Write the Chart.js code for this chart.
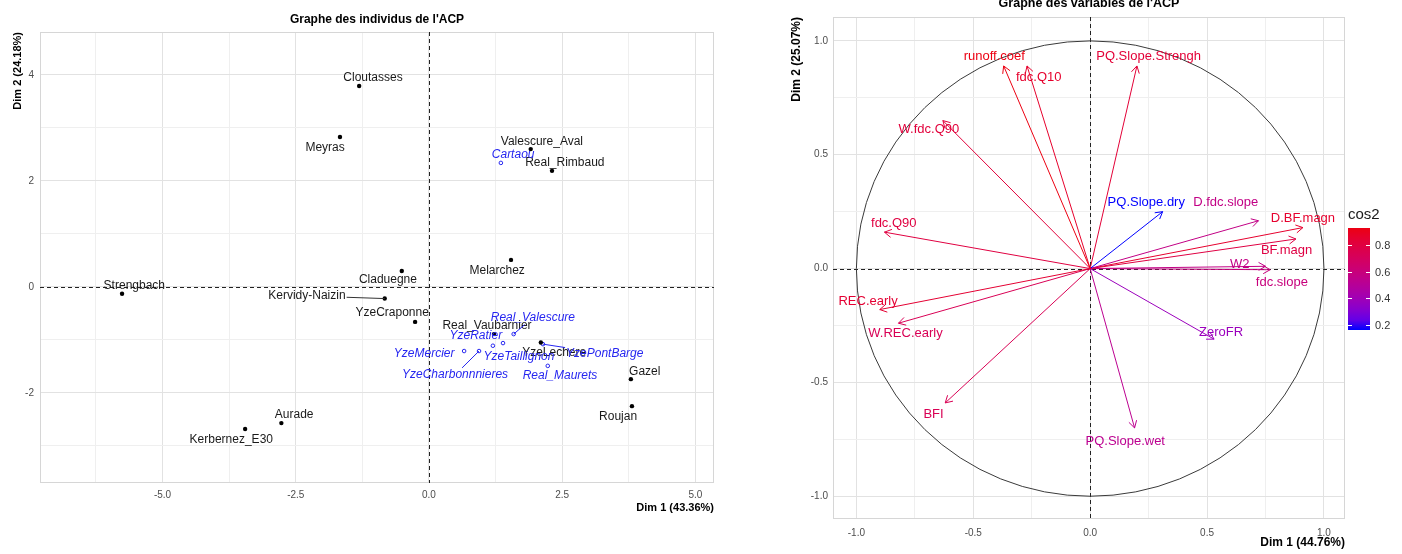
<!DOCTYPE html>
<html lang="fr">
<head>
<meta charset="UTF-8">
<title>Graphes de l'ACP</title>
<script src="https://cdn.jsdelivr.net/npm/chart.js"></script>
<style>
  html, body { margin: 0; padding: 0; background: #fff; }
  body { width: 1402px; height: 554px; position: relative; overflow: hidden; }
  .box { position: absolute; top: 0; height: 554px; }
  #left { left: 0; width: 740px; }
  #right { left: 785px; width: 617px; }
</style>
</head>
<body>
<div class="box" id="left"><canvas id="indChart"></canvas></div>
<div class="box" id="right"><canvas id="varChart"></canvas></div>

<script>
  // individus actifs
  const indNames = ['Cloutasses', 'Meyras', 'Valescure_Aval', 'Real_Rimbaud', 'Melarchez', 'Claduegne', 'Strengbach',
    'Kervidy-Naizin', 'YzeCraponne', 'Real_Vaubarnier', 'YzeLechere', 'Gazel', 'Roujan', 'Aurade', 'Kerbernez_E30'];
  const indX = [-1.31, -1.67, 1.91, 2.31, 1.54, -0.51, -5.76, -0.83, -0.26, 1.22, 2.10, 3.79, 3.81, -2.77, -3.45];
  const indY = [3.79, 2.83, 2.60, 2.19, 0.51, 0.30, -0.13, -0.22, -0.66, -0.89, -1.05, -1.74, -2.25, -2.57, -2.68];
  const indLabX = [-1.05, -1.95, 2.12, 2.55, 1.28, -0.77, -5.53, -2.29, -0.69, 1.09, 2.35, 4.05, 3.55, -2.53, -3.71];
  const indLabY = [3.94, 2.62, 2.74, 2.34, 0.30, 0.13, 0.02, -0.17, -0.49, -0.74, -1.25, -1.60, -2.45, -2.42, -2.89];

  // individus supplementaires
  const supNames = ['Cartaou', 'Real_Valescure', 'YzeRatier', 'YzeTaillignon', 'YzeMercier', 'YzeCharbonnnieres', 'Real_Maurets', 'YzePontBarge'];
  const supX = [1.35, 1.59, 1.39, 1.20, 0.66, 0.94, 2.23, 2.14];
  const supY = [2.34, -0.89, -1.06, -1.11, -1.21, -1.21, -1.49, -1.08];
  const supLabX = [1.58, 1.95, 0.88, 1.69, -0.09, 0.49, 2.46, 3.30];
  const supLabY = [2.49, -0.58, -0.92, -1.32, -1.26, -1.66, -1.68, -1.26];

  // labels relies a leur point par un segment
  const segmentNames = ['Kervidy-Naizin', 'Real_Valescure', 'YzeCharbonnnieres', 'YzePontBarge'];

  // variables
  const varNames = ['runoff.coef', 'fdc.Q10', 'PQ.Slope.Strengh', 'W.fdc.Q90', 'fdc.Q90', 'PQ.Slope.dry', 'D.fdc.slope', 'D.BF.magn',
    'BF.magn', 'W2', 'fdc.slope', 'REC.early', 'W.REC.early', 'BFI', 'PQ.Slope.wet', 'ZeroFR'];
  const varX = [-0.37, -0.27, 0.20, -0.63, -0.88, 0.31, 0.72, 0.91, 0.88, 0.75, 0.77, -0.90, -0.82, -0.62, 0.19, 0.53];
  const varY = [0.89, 0.89, 0.89, 0.65, 0.16, 0.25, 0.21, 0.18, 0.13, 0.01, -0.005, -0.18, -0.24, -0.59, -0.70, -0.31];
  const varLabX = [-0.41, -0.22, 0.25, -0.69, -0.84, 0.24, 0.58, 0.91, 0.84, 0.64, 0.82, -0.95, -0.79, -0.67, 0.15, 0.56];
  const varLabY = [0.93, 0.84, 0.93, 0.61, 0.20, 0.29, 0.29, 0.22, 0.08, 0.02, -0.06, -0.145, -0.285, -0.64, -0.76, -0.28];

  // ticks
  const indXTicks = [-6.25, -5, -3.75, -2.5, -1.25, 0, 1.25, 2.5, 3.75, 5];
  const indXLabels = ['', '-5.0', '', '-2.5', '', '0.0', '', '2.5', '', '5.0'];
  const indYTicks = [-3, -2, -1, 0, 1, 2, 3, 4];
  const indYLabels = ['', '-2', '', '0', '', '2', '', '4'];
  const varTicks = [-1, -0.75, -0.5, -0.25, 0, 0.25, 0.5, 0.75, 1];
  const varLabels = ['-1.0', '', '-0.5', '', '0.0', '', '0.5', '', '1.0'];
  const cos2Ticks = [0.2, 0.4, 0.6, 0.8];

  Chart.defaults.font.family = '"Liberation Sans", Arial, sans-serif';
  Chart.defaults.animation = false;

  // gradient bleu -> rouge interpole en Lab (comme ggplot)
  function lin(c) { c /= 255; return c <= 0.04045 ? c / 12.92 : Math.pow((c + 0.055) / 1.055, 2.4); }
  function unlin(c) {
    c = c <= 0.0031308 ? 12.92 * c : 1.055 * Math.pow(Math.max(c, 0), 1 / 2.4) - 0.055;
    return Math.round(Math.max(0, Math.min(1, c)) * 255);
  }
  const fLab = t => t > 0.008856 ? Math.cbrt(t) : 7.787 * t + 16 / 116;
  const fInv = t => t > 0.206893 ? t * t * t : (t - 16 / 116) / 7.787;
  function rgbToLab(rgb) {
    const r = lin(rgb[0]), g = lin(rgb[1]), b = lin(rgb[2]);
    const x = (0.4124 * r + 0.3576 * g + 0.1805 * b) / 0.95047;
    const y = 0.2126 * r + 0.7152 * g + 0.0722 * b;
    const z = (0.0193 * r + 0.1192 * g + 0.9505 * b) / 1.08883;
    return [116 * fLab(y) - 16, 500 * (fLab(x) - fLab(y)), 200 * (fLab(y) - fLab(z))];
  }
  function labToRgb(lab) {
    const fy = (lab[0] + 16) / 116, fx = fy + lab[1] / 500, fz = fy - lab[2] / 200;
    const x = fInv(fx) * 0.95047, y = fInv(fy), z = fInv(fz) * 1.08883;
    const r = 3.2406 * x - 1.5372 * y - 0.4986 * z;
    const g = -0.9689 * x + 1.8758 * y + 0.0415 * z;
    const b = 0.0557 * x - 0.2040 * y + 1.0570 * z;
    return `rgb(${unlin(r)},${unlin(g)},${unlin(b)})`;
  }
  const lowLab = rgbToLab([0, 0, 255]);
  const highLab = rgbToLab([236, 0, 18]);
  const cos2 = varX.map((x, i) => x * x + varY[i] * varY[i]);
  const cMin = Math.min(...cos2), cMax = Math.max(...cos2);
  function cos2Color(v) {
    const t = Math.max(0, Math.min(1, (v - cMin) / (cMax - cMin)));
    return labToRgb(lowLab.map((l, k) => l + (highLab[k] - l) * t));
  }
  const varColors = cos2.map(cos2Color);

  function axis(min, max, ticks, labels, title, titleSize, pad, fit) {
    return {
      type: 'linear', min, max,
      afterBuildTicks: s => { s.ticks = ticks.map(v => ({ value: v })); },
      afterFit: fit,
      grid: {
        color: c => (c.tick && labels[ticks.indexOf(c.tick.value)] ? '#E2E2E2' : '#EFEFEF'),
        lineWidth: 1, drawTicks: false
      },
      border: { display: false },
      ticks: {
        callback: v => labels[ticks.indexOf(v)] || '',
        color: '#4D4D4D', font: { size: 10 }, padding: pad, autoSkip: false, maxRotation: 0
      },
      title: { display: true, text: title, align: 'end', color: '#000', font: { size: titleSize, weight: 'bold' } }
    };
  }

  function panelDecor(ctx, chart) {
    const a = chart.chartArea, sx = chart.scales.x, sy = chart.scales.y;
    ctx.save();
    ctx.strokeStyle = '#D6D6D6';
    ctx.lineWidth = 1;
    ctx.strokeRect(a.left + 0.5, a.top + 0.5, a.right - a.left - 1, a.bottom - a.top - 1);
    ctx.strokeStyle = '#222';
    ctx.setLineDash([4, 3]);
    const x0 = Math.round(sx.getPixelForValue(0)) + 0.5, y0 = Math.round(sy.getPixelForValue(0)) + 0.5;
    ctx.beginPath();
    ctx.moveTo(x0, a.top); ctx.lineTo(x0, a.bottom);
    ctx.moveTo(a.left, y0); ctx.lineTo(a.right, y0);
    ctx.stroke();
    ctx.restore();
  }

  function drawTitle(chart, text, y, size) {
    const ctx = chart.ctx, a = chart.chartArea;
    ctx.save();
    ctx.font = `bold ${size}px "Liberation Sans", Arial, sans-serif`;
    ctx.fillStyle = '#000';
    ctx.textAlign = 'center';
    ctx.textBaseline = 'middle';
    ctx.fillText(text, (a.left + a.right) / 2, y);
    ctx.restore();
  }

  // ---- graphe des individus ----
  const indPlugin = {
    id: 'indDecor',
    beforeDatasetsDraw(chart) { panelDecor(chart.ctx, chart); },
    afterDatasetsDraw(chart) {
      const ctx = chart.ctx, sx = chart.scales.x, sy = chart.scales.y;
      const groups = [
        { names: indNames, x: indX, y: indY, lx: indLabX, ly: indLabY, color: '#1A1A1A', font: '12px "Liberation Sans", Arial, sans-serif', seg: '#333' },
        { names: supNames, x: supX, y: supY, lx: supLabX, ly: supLabY, color: '#2626F0', font: 'italic 12px "Liberation Sans", Arial, sans-serif', seg: '#2626F0' }
      ];
      ctx.save();
      ctx.textAlign = 'center';
      ctx.textBaseline = 'middle';
      groups.forEach(g => {
        ctx.font = g.font;
        g.names.forEach((n, i) => {
          const cx = sx.getPixelForValue(g.lx[i]), cy = sy.getPixelForValue(g.ly[i]);
          if (segmentNames.includes(n)) {
            const px = sx.getPixelForValue(g.x[i]), py = sy.getPixelForValue(g.y[i]);
            const hw = ctx.measureText(n).width / 2 + 1, hh = 7;
            const dx = px - cx, dy = py - cy;
            const s = Math.min(dx ? hw / Math.abs(dx) : Infinity, dy ? hh / Math.abs(dy) : Infinity);
            if (s < 1) {
              ctx.strokeStyle = g.seg;
              ctx.lineWidth = 1;
              ctx.beginPath();
              ctx.moveTo(cx + dx * s, cy + dy * s);
              ctx.lineTo(px, py);
              ctx.stroke();
            }
          }
          ctx.fillStyle = g.color;
          ctx.fillText(n, cx, cy);
        });
      });
      ctx.restore();
    },
    afterDraw(chart) { drawTitle(chart, "Graphe des individus de l'ACP", 20, 12); }
  };

  new Chart(document.getElementById('indChart'), {
    type: 'scatter',
    data: {
      datasets: [
        {
          data: indX.map((x, i) => ({ x, y: indY[i] })),
          pointRadius: 2.2, backgroundColor: '#000', borderColor: '#000', borderWidth: 0
        },
        {
          data: supX.map((x, i) => ({ x, y: supY[i] })),
          pointRadius: 1.8, backgroundColor: 'rgba(0,0,0,0)', borderColor: '#2626F0', borderWidth: 1
        }
      ]
    },
    options: {
      responsive: true,
      maintainAspectRatio: false,
      layout: { padding: { left: 7, right: 26, top: 32, bottom: 35 } },
      plugins: { legend: { display: false }, tooltip: { enabled: false } },
      scales: {
        x: axis(-7.3, 5.35, indXTicks, indXLabels, 'Dim 1 (43.36%)', 11, 6, s => { s.height = 36; }),
        y: axis(-3.7, 4.81, indYTicks, indYLabels, 'Dim 2 (24.18%)', 11, 6, s => { s.width = 33; })
      }
    },
    plugins: [indPlugin]
  });

  // ---- graphe des variables ----
  const varPlugin = {
    id: 'varDecor',
    beforeDatasetsDraw(chart) {
      const ctx = chart.ctx, sx = chart.scales.x, sy = chart.scales.y;
      panelDecor(ctx, chart);
      const cx = sx.getPixelForValue(0), cy = sy.getPixelForValue(0);
      ctx.save();
      ctx.strokeStyle = '#3A3A3A';
      ctx.lineWidth = 1;
      ctx.beginPath();
      ctx.ellipse(cx, cy, sx.getPixelForValue(1) - cx, cy - sy.getPixelForValue(1), 0, 0, Math.PI * 2);
      ctx.stroke();
      ctx.restore();
    },
    afterDatasetsDraw(chart) {
      const ctx = chart.ctx, sx = chart.scales.x, sy = chart.scales.y;
      const ox = sx.getPixelForValue(0), oy = sy.getPixelForValue(0);
      ctx.save();
      ctx.lineWidth = 1;
      varNames.forEach((n, i) => {
        const tx = sx.getPixelForValue(varX[i]), ty = sy.getPixelForValue(varY[i]);
        const ang = Math.atan2(ty - oy, tx - ox), len = 8, spread = Math.PI / 6;
        ctx.strokeStyle = varColors[i];
        ctx.beginPath();
        ctx.moveTo(tx - len * Math.cos(ang - spread), ty - len * Math.sin(ang - spread));
        ctx.lineTo(tx, ty);
        ctx.lineTo(tx - len * Math.cos(ang + spread), ty - len * Math.sin(ang + spread));
        ctx.stroke();
      });
      ctx.font = '13px "Liberation Sans", Arial, sans-serif';
      ctx.textAlign = 'center';
      ctx.textBaseline = 'middle';
      varNames.forEach((n, i) => {
        ctx.fillStyle = varColors[i];
        ctx.fillText(n, sx.getPixelForValue(varLabX[i]), sy.getPixelForValue(varLabY[i]));
      });
      ctx.restore();
    },
    afterDraw(chart) {
      const ctx = chart.ctx, a = chart.chartArea;
      drawTitle(chart, "Graphe des variables de l'ACP", 4, 12.5);
      // legende cos2
      const left = a.right + 3, top = a.top + 211, w = 22, h = 102;
      const grad = ctx.createLinearGradient(0, top + h, 0, top);
      for (let k = 0; k <= 10; k++) grad.addColorStop(k / 10, cos2Color(cMin + (cMax - cMin) * k / 10));
      ctx.save();
      ctx.fillStyle = grad;
      ctx.fillRect(left, top, w, h);
      ctx.strokeStyle = '#fff';
      ctx.lineWidth = 1;
      ctx.font = '11px "Liberation Sans", Arial, sans-serif';
      ctx.fillStyle = '#333';
      ctx.textAlign = 'left';
      ctx.textBaseline = 'middle';
      cos2Ticks.forEach(v => {
        const y = Math.round(top + h - (v - cMin) / (cMax - cMin) * h) + 0.5;
        ctx.beginPath();
        ctx.moveTo(left, y); ctx.lineTo(left + 4, y);
        ctx.moveTo(left + w - 4, y); ctx.lineTo(left + w, y);
        ctx.stroke();
        ctx.fillText(v.toFixed(1), left + w + 5, y);
      });
      ctx.font = '15px "Liberation Sans", Arial, sans-serif';
      ctx.fillStyle = '#1A1A1A';
      ctx.fillText('cos2', left, top - 13);
      ctx.restore();
    }
  };

  new Chart(document.getElementById('varChart'), {
    type: 'scatter',
    data: {
      datasets: varNames.map((n, i) => ({
        label: n,
        data: [{ x: 0, y: 0 }, { x: varX[i], y: varY[i] }],
        showLine: true, pointRadius: 0, borderWidth: 1, borderColor: varColors[i]
      }))
    },
    options: {
      responsive: true,
      maintainAspectRatio: false,
      layout: { padding: { left: 0, right: 57, top: 17, bottom: 0 } },
      plugins: { legend: { display: false }, tooltip: { enabled: false } },
      scales: {
        x: axis(-1.1, 1.09, varTicks, varLabels, 'Dim 1 (44.76%)', 12, 8, s => { s.height = 35; }),
        y: axis(-1.1, 1.105, varTicks, varLabels, 'Dim 2 (25.07%)', 12, 5, s => { s.width = 48; })
      }
    },
    plugins: [varPlugin]
  });
</script>
</body>
</html>
